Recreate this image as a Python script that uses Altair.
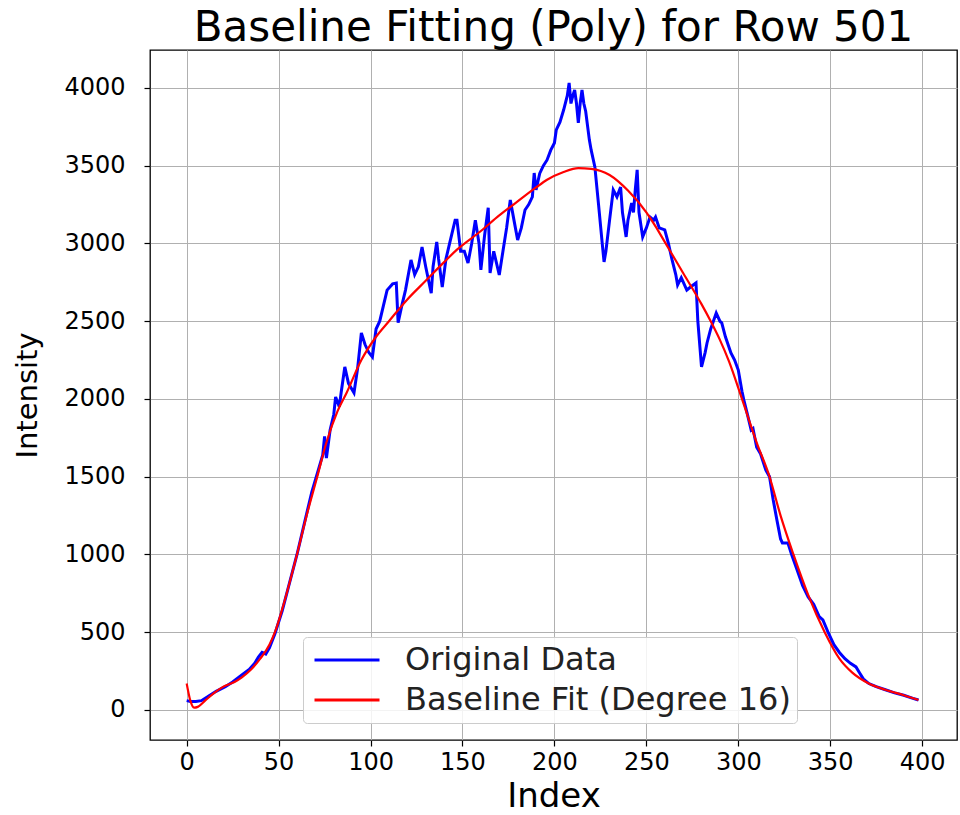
import altair as alt
import pandas as pd

# Original data (index, intensity)
orig_x = [0, 2, 5, 8, 12, 16, 21, 25, 30, 34, 37, 39, 41, 43, 45, 48, 52, 56, 60, 64,
          68, 71, 74, 75, 76, 78, 80, 81, 83, 84, 86, 88, 91, 93, 95, 97, 99, 101, 103, 105,
          107, 109, 112, 114, 115, 117, 119, 122, 124, 126, 128, 130, 133, 134, 136, 137, 139, 141, 143, 146,
          147, 149, 151, 153, 155, 157, 159, 160, 162, 164, 165, 167, 170, 172, 174, 176, 178, 180, 182, 184,
          186, 188, 189, 190, 192, 194, 196, 198, 200, 201, 203, 205, 207, 208, 209, 210, 211, 212, 213, 214,
          215, 216, 217, 219, 220, 222, 224, 226, 227, 228, 230, 232, 234, 236, 237, 239, 240, 242, 243, 244,
          245, 246, 248, 250, 252, 254, 255, 257, 260, 262, 264, 266, 267, 269, 272, 274, 277, 278, 280, 282,
          283, 285, 288, 290, 291, 293, 296, 298, 300, 302, 303, 305, 307, 308, 310, 312, 315, 317, 319, 321,
          323, 324, 327, 329, 332, 335, 338, 341, 344, 346, 349, 352, 355, 358, 361, 364, 366, 368, 371, 375,
          380, 385, 390, 395, 398]
orig_y = [60, 55, 55, 60, 90, 120, 150, 180, 225, 260, 300, 340, 370, 360, 400, 490, 640, 820, 1000, 1200,
          1400, 1520, 1640, 1760, 1620, 1800, 1900, 2013, 1950, 2040, 2206, 2100, 2040, 2200, 2424, 2350, 2300, 2270, 2450, 2500,
          2600, 2700, 2740, 2745, 2490, 2600, 2700, 2894, 2800, 2850, 2977, 2850, 2680, 2850, 3010, 2900, 2720, 2900, 3000, 3150,
          3150, 2950, 2950, 2874, 3000, 3150, 3000, 2830, 3050, 3230, 2810, 2950, 2797, 2950, 3100, 3280, 3150, 3022, 3100, 3215,
          3250, 3300, 3453, 3344, 3450, 3500, 3537, 3600, 3646, 3730, 3780, 3858, 3950, 4032, 3900, 3950, 3987, 3900, 3775, 3900,
          3987, 3900, 3850, 3666, 3600, 3492, 3250, 3000, 2881, 2950, 3150, 3344, 3300, 3363, 3200, 3042, 3150, 3260, 3200, 3350,
          3473, 3200, 3042, 3100, 3170, 3150, 3170, 3100, 3087, 3000, 2894, 2800, 2733, 2780, 2700, 2720, 2746, 2500, 2206, 2300,
          2360, 2450, 2553, 2500, 2490, 2400, 2296, 2250, 2186, 2050, 1994, 1900, 1800, 1810, 1690, 1650, 1543, 1500, 1350, 1222,
          1100, 1074, 1074, 1000, 900, 800, 727, 680, 600, 579, 495, 420, 370, 330, 300, 277, 238, 200, 170, 150,
          130, 110, 95, 75, 64]

# Baseline fit (degree 16)
fit_x = [0, 2, 4, 6, 10, 15, 20, 26, 30, 35, 40, 45, 48, 52, 56, 60, 65, 71, 76, 82,
         87, 95, 103, 110, 120, 130, 140, 147, 160, 170, 180, 190, 196, 205, 213, 220, 230, 240, 250, 255,
         260, 270, 280, 285, 290, 295, 302, 310, 317, 323, 330, 338, 347, 355, 362, 371, 380, 390, 398]
fit_y = [170, 60, 15, 20, 60, 110, 150, 180, 210, 260, 330, 420, 500, 650, 820, 1000, 1240, 1500, 1720, 1920,
         2040, 2250, 2400, 2500, 2640, 2760, 2880, 2960, 3080, 3180, 3270, 3360, 3410, 3460, 3485, 3480, 3440, 3340, 3200, 3110,
         3010, 2810, 2610, 2500, 2380, 2240, 2000, 1720, 1500, 1250, 1000, 740, 500, 330, 240, 170, 130, 95, 64]

series_names = ["Original Data", "Baseline Fit (Degree 16)"]
series_colors = ["blue", "red"]
x_ticks = [0, 50, 100, 150, 200, 250, 300, 350, 400]
y_ticks = [0, 500, 1000, 1500, 2000, 2500, 3000, 3500, 4000]

df_orig = pd.DataFrame({"Index": orig_x, "Intensity": orig_y, "series": series_names[0], "order": range(len(orig_x))})
df_fit = pd.DataFrame({"Index": fit_x, "Intensity": fit_y, "series": series_names[1], "order": range(len(fit_x))})

FONT = "DejaVu Sans"

x_enc = alt.X("Index:Q", scale=alt.Scale(domain=[-19.95, 418.95], nice=False, zero=False),
              axis=alt.Axis(values=x_ticks, format="d", title="Index", titleFontSize=34,
                            titleFontWeight="normal", labelFontSize=24, labelPadding=4, titlePadding=5))
y_enc = alt.Y("Intensity:Q", scale=alt.Scale(domain=[-193, 4244], nice=False, zero=False),
              axis=alt.Axis(values=y_ticks, format="d", title="Intensity", titleFontSize=29,
                            titleFontWeight="normal", labelFontSize=24, labelPadding=19, titlePadding=21))
color_enc = alt.Color("series:N",
                      scale=alt.Scale(domain=series_names, range=series_colors),
                      legend=alt.Legend(title=None, orient="none", legendX=153, legendY=587,
                                        symbolType="stroke", symbolSize=4225, symbolStrokeWidth=3,
                                        symbolOffset=4, clipHeight=34,
                                        labelFontSize=32, labelFont=FONT, labelColor="#222222",
                                        padding=6, rowPadding=6, labelOffset=24,
                                        fillColor="rgba(255,255,255,0.85)", strokeColor="#cccccc",
                                        cornerRadius=4, labelLimit=700))

orig_line = alt.Chart(df_orig).mark_line(strokeWidth=3, strokeJoin="miter").encode(
    x=x_enc, y=y_enc, color=color_enc, order="order:Q")
fit_line = alt.Chart(df_fit).mark_line(strokeWidth=2.2, interpolate="monotone").encode(
    x=x_enc, y=y_enc, color=color_enc, order="order:Q")

chart = alt.layer(orig_line, fit_line).properties(
    width=807, height=690,
    background="white",
    title=alt.TitleParams("Baseline Fitting (Poly) for Row 501", fontSize=42, font=FONT,
                          fontWeight="normal", color="black", anchor="middle", offset=0),
    autosize=alt.AutoSizeParams(type="none"),
    padding={"left": 150, "top": 50, "right": 3, "bottom": 75},
).configure_view(stroke="black", strokeWidth=1.3).configure_axis(
    labelFont=FONT, titleFont=FONT, labelColor="black", titleColor="black",
    titleFontWeight="normal", grid=True, gridColor="#b0b0b0", gridWidth=1,
    domain=False, tickColor="black", tickSize=6, tickWidth=1.2,
)

chart.save("out.html", embed_options={"renderer": "svg", "actions": False})
